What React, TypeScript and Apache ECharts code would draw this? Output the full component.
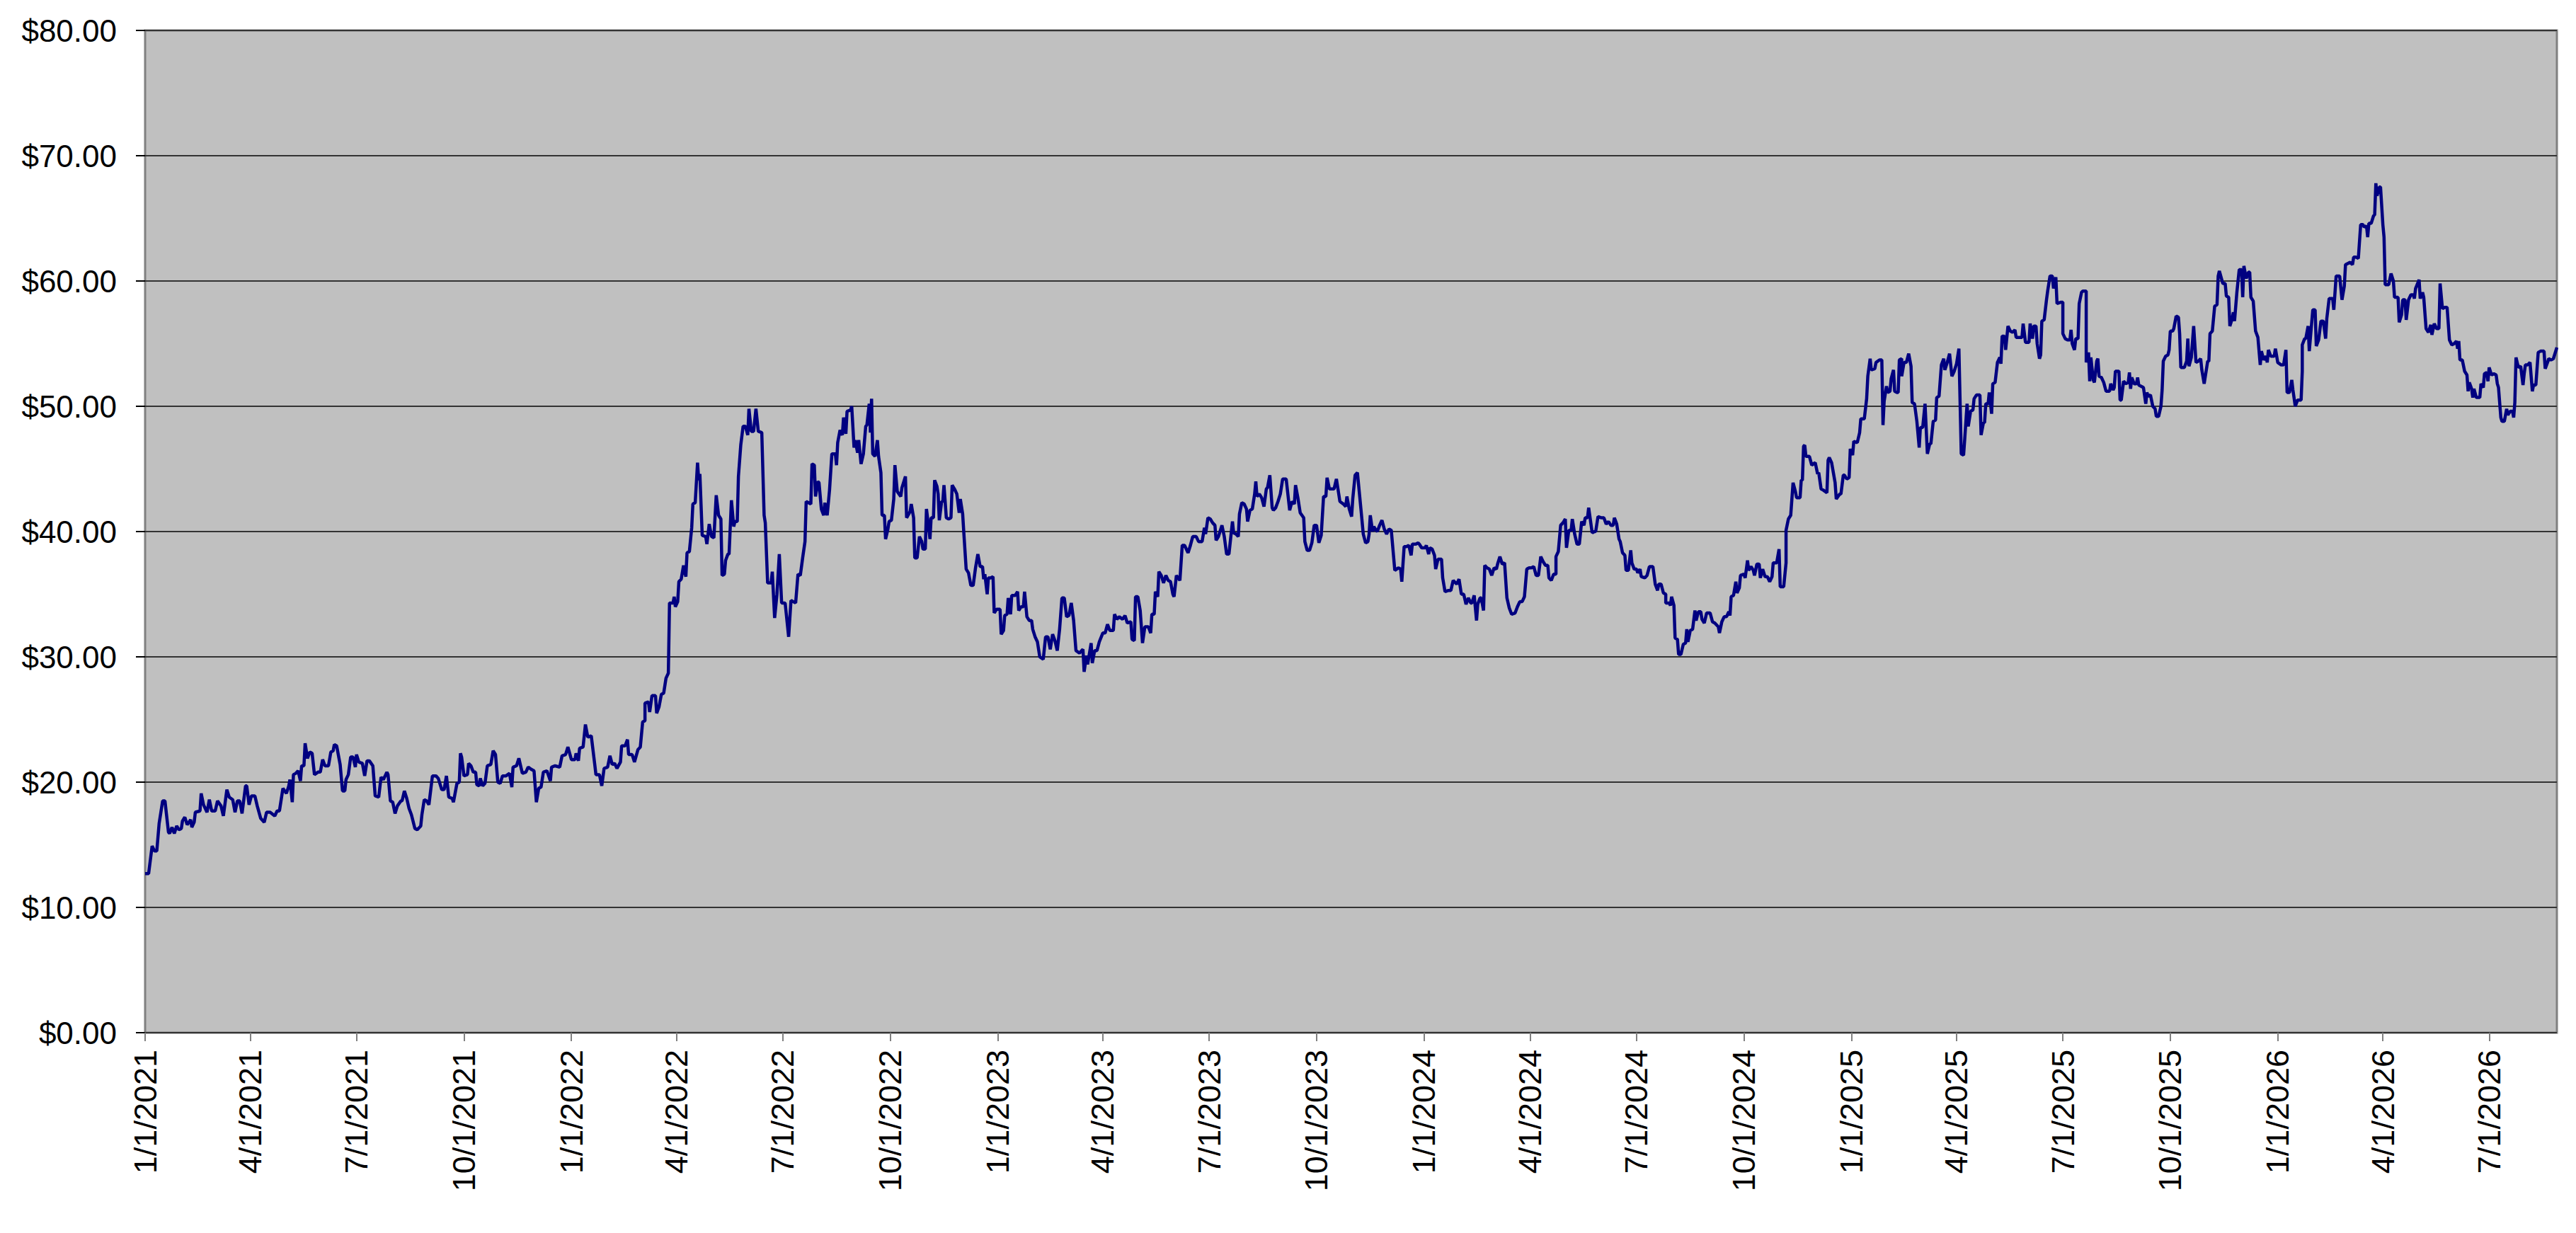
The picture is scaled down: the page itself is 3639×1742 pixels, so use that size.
import React, { useEffect, useRef } from "react";
import * as echarts from "echarts";

// Day offsets from 1/1/2021 paired with the closing price.
const trace2021: [number, number][] = [[0,12.7],[3,12.7],[6,14.9],[8,14.5],[10,14.5],[12,16.7],[15,18.5],[17,18.5],[20,16.0],[21,15.9],[23,16.4],[25,15.9],[27,16.5],[29,16.2],[31,16.3],[32,16.9],[34,17.2],[36,16.6],[39,17.0],[40,16.4],[42,16.8],[43,17.6],[47,17.7],[48,19.1],[50,18.2],[53,17.6],[55,18.6],[57,17.7],[60,17.7],[62,18.5],[65,18.1],[67,17.3],[70,19.4],[72,18.8],[75,18.6],[77,17.6],[79,18.5],[81,18.5],[83,17.5],[86,19.7],[87,19.7],[89,18.2],[91,18.9],[94,18.9],[96,18.1],[99,17.1],[102,16.8],[104,17.6],[107,17.6],[111,17.3],[113,17.7],[115,17.7],[118,19.5],[121,19.1],[123,19.7],[124,20.2],[126,18.4],[127,20.6],[129,20.7],[131,20.9],[133,20.1],[134,21.3],[136,21.3],[137,23.1],[139,21.9],[141,22.4],[143,22.3],[145,20.6],[148,20.8],[150,20.8],[152,21.8],[154,21.3],[157,21.3],[159,22.4],[161,22.5],[162,23.0],[164,22.9],[167,21.4],[169,19.3],[171,19.3],[172,20.2],[174,20.6],[176,22.0],[178,22.0],[180,21.2],[181,22.2],[183,21.6],[186,21.5],[188,20.5],[190,21.7],[192,21.7],[195,21.3],[197,18.9],[200,18.8],[202,20.4],[204,20.2],[207,20.8],[208,20.6],[210,18.5],[212,18.4],[214,17.5],[216,18.1],[219,18.5],[220,18.5],[222,19.3],[224,18.7],[226,17.9],[228,17.4],[231,16.3],[233,16.2],[236,16.5],[237,17.4],[239,18.6],[241,18.5],[243,18.2],[246,20.5],[249,20.5],[251,20.3],[254,19.4],[256,19.4]];

const trace2022a: [number, number][] = [[258,20.5],[260,18.8],[263,18.7],[264,18.4],[267,19.9],[269,20.0],[270,22.3],[271,22.0],[273,20.5],[276,20.6],[277,21.5],[279,21.3],[281,20.8],[283,20.8],[284,19.8],[286,19.7],[287,20.3],[289,19.7],[291,19.9],[293,21.3],[296,21.4],[298,22.5],[300,22.2],[302,20.0],[304,19.9],[306,20.5],[309,20.5],[312,20.7],[314,19.6],[315,21.2],[318,21.3],[320,21.9],[323,20.7],[326,20.8],[328,21.2],[331,21.0],[333,20.9],[335,18.4],[337,19.5],[339,19.6],[341,20.8],[344,20.9],[347,20.1],[348,21.2],[351,21.3],[355,21.2],[357,22.1],[360,22.2],[362,22.8],[365,21.8],[368,21.8],[369,22.3],[371,21.7],[372,22.7],[375,22.8],[377,24.6],[379,23.6],[382,23.7],[385,21.4],[386,20.6],[389,20.6],[391,19.7],[393,21.1],[396,21.2],[398,22.1],[400,21.4],[402,21.5],[404,21.1],[407,21.6],[408,22.9],[411,22.9],[413,23.4],[414,22.2],[417,22.2],[419,21.6],[422,22.6],[424,22.8],[426,24.8],[428,24.9],[428,26.3],[431,26.4],[432,25.6],[434,26.9],[437,26.9],[438,25.5],[440,26.0],[442,27.0],[444,27.1],[446,28.3],[448,28.7],[449,34.3],[452,34.3],[453,34.8],[454,34.0],[456,34.4],[457,36.0],[459,36.2],[461,37.3],[463,36.4],[464,38.3],[466,38.4],[468,40.3],[469,42.2],[471,42.3],[473,45.5],[474,44.1],[475,44.6],[477,39.7],[480,39.6],[481,39.0],[483,40.6],[485,39.6],[487,39.5],[489,42.9],[491,41.3],[493,41.0],[494,36.5],[496,36.6],[497,37.7],[499,38.2],[500,38.2],[502,42.5],[504,40.4],[505,40.8],[507,40.8],[508,44.4],[510,46.9],[512,48.4]];

const trace2022b: [number, number][] = [[514,48.4],[516,47.7],[517,49.8],[519,48.0],[521,48.0],[523,49.8],[525,48.0],[528,47.9],[530,41.3],[531,40.7],[533,35.9],[536,35.9],[537,36.8],[539,33.1],[541,35.0],[543,38.2],[545,34.3],[548,34.3],[551,31.6],[553,34.5],[557,34.3],[559,36.6],[561,36.5],[563,37.9],[565,39.2],[566,42.4],[570,42.2],[571,45.4],[573,45.3],[574,42.8],[576,44.0],[577,43.9],[579,41.8],[581,41.3],[582,42.3],[584,41.3],[586,43.3],[588,46.2],[591,46.2],[592,45.3],[593,47.1],[595,48.1],[597,47.7],[598,49.1],[600,47.8],[601,49.6],[604,49.7],[605,50.0],[607,46.7],[608,47.3],[610,46.3],[611,47.3],[613,45.4],[615,46.2],[617,48.4],[618,48.5],[620,50.2],[621,47.9],[622,50.6],[623,46.2],[625,46.0],[627,47.3],[628,46.0],[630,44.7],[631,41.3],[633,41.3],[634,39.4],[636,40.2],[637,40.8],[639,40.9],[641,42.6],[642,45.3],[644,43.2],[647,42.8],[648,43.5],[651,44.4],[652,41.1],[655,41.6],[656,42.2],[658,41.1],[659,37.9],[661,37.9],[663,39.6],[665,39.2],[666,38.6],[668,38.6],[669,41.8],[671,40.3],[672,39.4],[673,41.1],[675,41.1],[676,44.1],[678,43.6],[679,43.0],[680,40.9],[682,42.4],[683,42.4],[684,43.7],[686,41.1],[688,41.0],[690,41.1],[691,43.7],[693,43.4],[695,43.0],[697,41.5],[698,42.6],[700,41.4],[701,39.9],[703,37.0],[705,36.7],[707,35.7],[709,35.7],[711,37.1],[713,38.2],[715,37.2],[717,37.2],[718,36.2],[719,36.6],[721,35.0],[722,36.3],[724,36.3],[726,36.4],[727,33.5],[729,33.8],[732,33.8],[733,31.8],[735,32.1],[736,33.3],[738,33.4],[739,34.7],[741,33.4],[742,34.9],[745,34.9],[747,35.2],[748,33.7],[750,34.0],[752,34.0],[753,35.2],[755,33.2],[757,32.9],[759,32.9],[760,32.2],[762,31.6],[764,31.2],[766,30.0],[769,29.8]];

const trace2023: [number, number][] = [[771,31.6],[773,31.6],[775,30.6],[777,31.8],[779,31.3],[781,30.5],[783,32.2],[785,34.7],[787,34.7],[789,33.2],[791,33.3],[793,34.3],[795,32.9],[797,30.5],[800,30.3],[803,30.6],[804,28.8],[806,30.1],[807,29.4],[810,31.1],[811,29.5],[813,30.5],[815,30.5],[817,31.2],[820,31.9],[822,31.9],[824,32.6],[826,32.1],[829,32.1],[830,33.4],[832,33.0],[834,33.2],[837,33.0],[839,33.3],[841,32.7],[844,32.8],[845,31.4],[847,31.3],[848,34.8],[850,34.8],[852,33.7],[854,31.1],[856,32.4],[859,32.4],[861,31.9],[862,33.4],[864,33.4],[865,35.2],[867,34.8],[868,36.8],[870,36.5],[872,35.9],[874,36.5],[876,36.1],[878,36.0],[880,35.0],[881,34.8],[883,36.5],[886,36.1],[888,38.9],[890,38.9],[893,38.3],[895,38.9],[897,39.6],[900,39.6],[902,39.2],[905,39.2],[907,40.3],[908,39.8],[910,41.1],[912,41.0],[914,40.7],[916,40.5],[917,39.3],[919,39.6],[922,40.5],[924,39.6],[926,38.2],[928,38.2],[931,40.8],[932,39.9],[934,39.8],[936,39.6],[937,41.4],[939,42.3],[941,42.2],[943,41.8],[944,40.8],[946,41.7],[948,41.8],[950,43.0],[951,44.0],[952,42.8],[954,43.0],[956,42.7],[958,42.0],[960,43.4],[961,43.5],[963,44.5],[965,41.9],[966,41.7],[968,41.9],[970,42.4],[972,43.0],[974,44.2],[977,44.2],[980,41.7],[982,42.4],[984,42.2],[985,43.7],[987,42.7],[989,41.5],[992,41.1],[993,39.2],[995,38.5],[997,38.5],[999,39.1],[1001,40.5],[1003,40.5],[1005,39.1],[1007,39.7],[1009,42.8],[1011,42.8],[1012,44.3],[1014,43.4],[1018,43.4],[1020,44.2],[1023,42.4],[1026,42.2]];

const trace2024: [number, number][] = [[1028,42.0],[1029,42.8],[1031,41.8],[1033,41.2],[1034,42.6],[1036,44.5],[1038,44.7],[1041,41.8],[1043,39.8],[1045,39.1],[1047,39.2],[1048,39.8],[1049,41.3],[1051,40.0],[1052,40.4],[1054,40.1],[1055,40.0],[1057,40.5],[1059,40.9],[1061,40.2],[1063,39.8],[1065,40.2],[1067,40.1],[1070,36.9],[1073,37.1],[1075,37.0],[1076,36.0],[1078,38.8],[1080,38.8],[1082,38.9],[1084,38.1],[1085,39.0],[1088,39.0],[1090,39.1],[1091,39.0],[1093,38.7],[1096,38.7],[1097,38.9],[1099,38.2],[1100,38.7],[1102,38.6],[1104,38.1],[1105,37.0],[1107,37.8],[1110,37.8],[1111,36.3],[1113,35.2],[1116,35.3],[1118,35.3],[1120,36.1],[1123,35.8],[1125,36.2],[1127,35.0],[1129,35.0],[1131,34.2],[1133,34.7],[1135,34.3],[1136,34.3],[1138,34.9],[1140,32.9],[1141,34.2],[1143,34.7],[1144,34.7],[1146,33.7],[1147,37.3],[1149,37.1],[1151,37.0],[1153,36.5],[1155,37.1],[1157,37.0],[1158,37.4],[1160,38.0],[1162,37.4],[1164,37.5],[1166,34.7],[1168,33.9],[1170,33.4],[1173,33.5],[1175,34.0],[1177,34.4],[1179,34.4],[1181,34.8],[1183,37.0],[1185,37.1],[1187,37.1],[1189,37.2],[1191,36.5],[1193,36.5],[1195,38.0],[1197,37.6],[1199,37.3],[1201,37.3],[1202,36.3],[1204,36.1],[1206,36.6],[1208,36.6],[1208,38.0],[1210,38.4],[1212,40.5],[1214,40.7],[1216,41.0],[1217,38.7],[1219,40.1],[1221,40.1],[1222,41.0],[1224,39.8],[1226,39.0],[1228,39.0],[1230,40.8],[1232,40.5],[1233,41.1],[1235,41.1],[1236,41.9],[1239,39.9],[1241,40.0],[1242,40.0],[1244,41.2],[1247,41.1],[1249,41.1],[1251,40.6],[1253,40.8],[1255,40.5],[1257,40.5],[1258,41.1],[1260,40.6],[1262,39.4],[1263,39.2],[1265,38.3],[1267,38.1],[1268,36.9],[1270,36.9],[1272,38.5],[1273,37.5],[1275,37.0],[1277,37.0],[1278,36.7],[1280,37.0],[1281,36.4],[1284,36.3],[1286,36.5],[1288,37.2],[1291,37.2]];

const trace2025a: [number, number][] = [[1293,35.8],[1295,35.3],[1296,35.8],[1298,35.8],[1300,35.1],[1302,35.0],[1302,34.3],[1305,34.3],[1306,34.1],[1307,34.8],[1309,34.1],[1310,31.5],[1312,31.4],[1313,30.2],[1315,30.2],[1317,31.0],[1319,31.1],[1320,32.2],[1321,31.2],[1323,32.1],[1325,32.2],[1327,33.7],[1328,32.9],[1330,33.6],[1332,33.6],[1333,33.0],[1335,32.7],[1337,33.5],[1340,33.5],[1342,32.8],[1344,32.7],[1347,32.4],[1348,31.9],[1350,32.8],[1352,33.2],[1354,33.2],[1356,33.6],[1357,33.3],[1358,34.8],[1360,34.9],[1362,36.0],[1363,35.1],[1365,35.5],[1366,36.5],[1369,36.6],[1370,36.3],[1372,37.7],[1373,36.9],[1375,37.2],[1377,36.9],[1378,36.5],[1380,37.4],[1382,37.4],[1383,36.3],[1385,37.0],[1387,36.4],[1389,36.4],[1391,36.0],[1393,36.4],[1394,37.5],[1397,37.5],[1399,38.6],[1400,35.6],[1403,35.6],[1405,37.5],[1405,40.1],[1407,41.0],[1409,41.3],[1411,43.9],[1413,43.2],[1414,42.7],[1417,42.7],[1418,44.1],[1419,44.1],[1420,46.8],[1421,46.9],[1422,46.0],[1425,46.0],[1427,45.3],[1430,45.5],[1432,44.6],[1433,44.7],[1435,43.4],[1437,43.3],[1440,43.1],[1441,45.7],[1442,45.9],[1444,45.5],[1447,43.9],[1448,42.6],[1451,43.0],[1452,43.0],[1454,44.5],[1455,44.5],[1457,44.2],[1459,44.3],[1460,46.6],[1462,46.1],[1463,47.2],[1466,47.1],[1468,47.9],[1469,49.0],[1472,49.0],[1474,50.6],[1475,52.4],[1477,53.8],[1478,52.9],[1481,53.0],[1482,53.5],[1485,53.7],[1487,53.7],[1488,48.5],[1489,50.4],[1491,51.6],[1492,51.1],[1494,51.2],[1495,52.2],[1497,52.9],[1498,51.2],[1500,51.1],[1501,51.1],[1502,53.7],[1504,53.8],[1504,52.4],[1506,53.5],[1508,53.5],[1510,54.2],[1512,53.2],[1513,50.3],[1515,50.2],[1517,48.8],[1519,46.7],[1520,48.3],[1522,48.3],[1524,50.2],[1526,46.2],[1528,47.0],[1529,47.0],[1531,48.8],[1533,48.9],[1534,50.7],[1536,50.8],[1538,53.3],[1540,53.8],[1541,52.9],[1543,53.5],[1545,54.2],[1547,52.4]];

const trace2025b: [number, number][] = [[1549,52.8],[1551,53.4],[1553,54.6],[1555,46.2],[1557,46.1],[1558,47.4],[1560,50.2],[1561,48.4],[1563,49.6],[1565,49.7],[1566,50.6],[1568,50.9],[1571,50.9],[1572,47.7],[1574,48.7],[1575,48.7],[1576,50.2],[1578,50.2],[1579,51.1],[1581,49.4],[1582,51.8],[1584,51.9],[1586,53.5],[1588,53.9],[1589,53.4],[1590,55.6],[1592,55.6],[1593,54.5],[1595,56.4],[1597,56.0],[1599,55.9],[1601,56.1],[1602,55.5],[1604,55.5],[1607,55.5],[1608,56.6],[1610,55.1],[1613,55.1],[1614,56.6],[1616,55.4],[1617,56.4],[1619,56.4],[1620,55.0],[1622,53.8],[1623,54.1],[1624,56.8],[1626,56.9],[1628,58.5],[1629,59.2],[1631,60.4],[1633,60.4],[1634,59.4],[1636,60.3],[1637,58.2],[1640,58.3],[1642,58.3],[1642,55.8],[1644,55.4],[1646,55.3],[1648,55.3],[1649,56.1],[1650,55.0],[1652,54.5],[1653,55.4],[1655,55.4],[1656,58.2],[1658,59.1],[1659,59.2],[1662,59.2],[1662,53.5],[1664,54.3],[1665,52.0],[1666,53.9],[1668,52.1],[1669,51.9],[1671,53.6],[1672,53.8],[1673,52.4],[1675,52.3],[1677,51.9],[1679,51.2],[1682,51.2],[1683,51.8],[1685,51.3],[1686,51.5],[1687,52.8],[1690,52.8],[1691,50.5],[1692,50.5],[1694,52.0],[1696,51.8],[1698,51.9],[1699,52.7],[1700,51.4],[1701,52.3],[1703,51.8],[1705,51.8],[1706,52.3],[1707,51.7],[1709,51.6],[1711,51.5],[1713,50.2],[1714,51.1],[1715,50.8],[1717,50.9],[1719,50.0],[1721,49.8],[1722,49.2],[1724,49.2],[1726,50.0],[1727,51.3],[1728,53.6],[1730,54.0],[1732,54.1],[1733,54.5],[1734,56.0],[1736,56.0],[1737,56.2],[1739,57.2],[1741,57.1],[1742,55.8],[1743,53.1],[1746,53.1],[1748,53.6],[1749,55.4],[1750,53.2],[1752,53.9],[1754,56.4],[1756,53.5],[1758,53.6],[1760,53.8],[1761,52.9],[1763,51.8],[1764,52.4],[1766,53.6],[1767,53.6],[1768,55.8],[1770,56.0],[1772,58.0],[1774,58.1],[1775,60.4],[1776,60.8],[1779,59.8],[1781,59.8],[1782,58.8],[1784,58.7],[1785,56.4],[1787,57.0],[1788,57.5],[1789,56.8],[1791,59.1],[1793,60.9],[1795,60.9],[1796,58.7],[1797,61.2],[1799,60.2],[1801,60.7],[1802,60.7],[1803,58.7],[1805,58.4],[1807,56.0],[1809,55.5]];

const trace2026: [number, number][] = [[1811,53.3],[1812,54.4],[1814,53.7],[1816,54.0],[1817,53.5],[1818,54.5],[1820,54.0],[1823,54.0],[1824,54.6],[1826,53.5],[1829,53.3],[1831,53.3],[1833,54.5],[1834,51.1],[1836,51.1],[1838,52.1],[1839,51.3],[1841,50.0],[1843,50.5],[1846,50.5],[1847,52.8],[1847,54.9],[1849,55.4],[1850,55.4],[1852,56.4],[1853,54.4],[1855,56.6],[1856,57.7],[1858,57.7],[1859,54.8],[1861,55.3],[1863,56.8],[1865,56.8],[1867,55.4],[1868,57.0],[1870,58.6],[1873,58.6],[1874,57.7],[1876,60.4],[1879,60.4],[1881,58.5],[1883,59.6],[1884,61.3],[1886,61.4],[1888,61.5],[1890,61.3],[1891,61.9],[1893,61.9],[1895,61.8],[1897,64.5],[1899,64.5],[1900,64.3],[1902,64.4],[1903,63.5],[1904,64.6],[1906,64.6],[1908,65.2],[1909,65.3],[1910,67.8],[1911,66.8],[1913,67.5],[1914,67.5],[1916,64.5],[1917,63.5],[1918,59.7],[1921,59.7],[1923,60.6],[1925,60.0],[1926,58.7],[1929,58.7],[1930,56.7],[1932,57.3],[1933,58.5],[1935,58.5],[1936,56.9],[1938,58.5],[1940,58.9],[1942,58.9],[1943,58.6],[1944,59.4],[1947,60.1],[1948,58.6],[1950,59.1],[1951,58.7],[1953,56.2],[1955,55.9],[1957,56.5],[1958,55.7],[1960,56.6],[1962,56.2],[1964,56.2],[1965,59.8],[1967,57.8],[1969,57.9],[1971,57.9],[1973,55.3],[1975,54.9],[1977,55.0],[1979,55.2],[1980,54.6],[1981,55.2],[1982,53.7],[1984,53.7],[1986,52.8],[1988,52.5],[1989,51.2],[1990,51.9],[1992,51.4],[1993,50.7],[1994,51.4],[1996,50.7],[1999,50.7],[2000,51.8],[2002,51.5],[2003,52.6],[2005,52.7],[2006,52.0],[2007,53.1],[2009,52.5],[2011,52.6],[2013,52.5],[2014,51.8],[2015,51.5],[2017,49.1],[2018,48.8],[2020,48.8],[2022,49.8],[2023,49.3],[2025,49.6],[2027,49.6],[2028,49.1],[2029,50.3],[2030,53.9],[2031,53.5],[2032,53.1],[2034,53.2],[2036,51.7],[2037,52.6],[2038,53.3],[2040,53.3],[2042,53.5],[2044,51.2],[2045,51.7],[2047,51.7],[2049,54.3],[2051,54.4],[2052,54.4],[2054,54.4],[2055,53.0],[2057,53.5],[2058,53.8],[2060,53.7],[2062,53.8],[2065,54.7]];

// Axis definitions
const START_UTC = Date.UTC(2021, 0, 1);
const DAY_COUNT = 2066; // 1/1/2021 .. 8/28/2026
const Y_MIN = 0;
const Y_MAX = 80;
const Y_STEP = 10;
const QUARTER_MONTHS = [1, 4, 7, 10];

function dayLabel(i: number): string {
  const d = new Date(START_UTC + i * 86400000);
  return `${d.getUTCMonth() + 1}/${d.getUTCDate()}/${d.getUTCFullYear()}`;
}

const dateCategories: string[] = Array.from({ length: DAY_COUNT }, (_, i) => dayLabel(i));

function isQuarterStart(label: string): boolean {
  const [m, d] = label.split("/");
  return d === "1" && QUARTER_MONTHS.includes(Number(m));
}

const allPoints = [
  ...trace2021,
  ...trace2022a,
  ...trace2022b,
  ...trace2023,
  ...trace2024,
  ...trace2025a,
  ...trace2025b,
  ...trace2026,
];

const FONT = "'Liberation Sans', Arial, Helvetica, sans-serif";

export default function App() {
  const ref = useRef<HTMLDivElement>(null);

  useEffect(() => {
    if (!ref.current) return;
    const chart = echarts.init(ref.current, undefined, { renderer: "svg" });
    chart.setOption({
      animation: false,
      backgroundColor: "#ffffff",
      textStyle: { fontFamily: FONT },
      grid: {
        left: 205,
        right: 27,
        top: 43,
        bottom: 283,
        show: true,
        backgroundColor: "#C0C0C0",
        borderColor: "#808080",
        borderWidth: 3,
      },
      xAxis: [
        {
          type: "category",
          data: dateCategories,
          boundaryGap: false,
          axisLine: { show: false },
          axisTick: {
            show: true,
            interval: (_i: number, v: string) => isQuarterStart(v),
            length: 12,
            lineStyle: { color: "#808080", width: 2 },
          },
          axisLabel: {
            interval: (_i: number, v: string) => isQuarterStart(v),
            rotate: 90,
            margin: 24,
            fontSize: 45,
            color: "#000000",
            fontFamily: FONT,
          },
          splitLine: { show: false },
        },
        {
          type: "value",
          min: 0,
          max: DAY_COUNT - 1,
          show: false,
          splitLine: { show: false },
        },
      ],
      yAxis: {
        type: "value",
        min: Y_MIN,
        max: Y_MAX,
        interval: Y_STEP,
        axisLine: { show: false },
        axisTick: { show: true, length: 13, lineStyle: { color: "#000000", width: 2 } },
        axisLabel: {
          formatter: (v: number) => `$${v.toFixed(2)}`,
          fontSize: 44,
          margin: 40,
          color: "#000000",
          fontFamily: FONT,
        },
        splitLine: { show: true, lineStyle: { color: "#333333", width: 2 } },
      },
      series: [
        {
          type: "line",
          xAxisIndex: 1,
          data: allPoints,
          symbol: "none",
          showSymbol: false,
          lineStyle: { color: "#000080", width: 4.5 },
          z: 3,
        },
      ],
    });
    return () => chart.dispose();
  }, []);

  return (
    <div
      ref={ref}
      style={{ position: "fixed", left: 0, top: 0, width: 3639, height: 1742 }}
    />
  );
}
